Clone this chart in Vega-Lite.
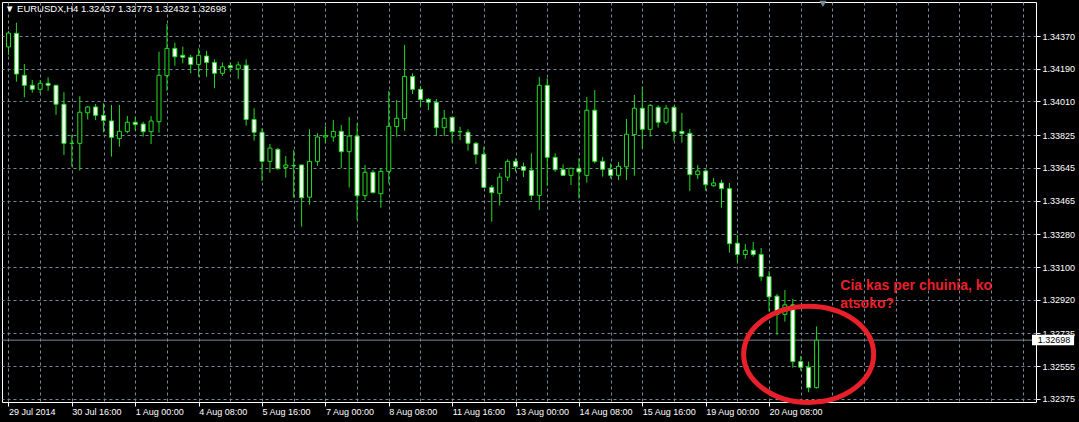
{
"$schema": "https://vega.github.io/schema/vega-lite/v6.json",
"width": 1034, "height": 400,
"autosize": {"type": "none"},
"padding": {"left": 2, "top": 2, "right": 43, "bottom": 20},
"background": "black",
"config": {"view": {"stroke": "white", "strokeWidth": 1}, "font": "Liberation Sans", "axis": {"labelOverlap": false, "labelSeparation": 0}},
"title": {"text": "▼  EURUSDX,H4  1.32437 1.32773 1.32432 1.32698", "anchor": "start", "frame": "group", "offset": -13, "dx": 3, "color": "white", "fontSize": 9.5, "fontWeight": "normal", "font": "Liberation Sans"},
"datasets": {"bars": [
{"i":0,"o":1.34310,"h":1.34397,"l":1.34266,"c":1.34386},
{"i":1,"o":1.34385,"h":1.34443,"l":1.34119,"c":1.34161},
{"i":2,"o":1.34154,"h":1.34216,"l":1.34033,"c":1.34099},
{"i":3,"o":1.34099,"h":1.34128,"l":1.34058,"c":1.34077},
{"i":4,"o":1.34077,"h":1.34128,"l":1.34055,"c":1.34110},
{"i":5,"o":1.34110,"h":1.34143,"l":1.34069,"c":1.34099},
{"i":6,"o":1.34099,"h":1.34102,"l":1.33937,"c":1.33995},
{"i":7,"o":1.33995,"h":1.34061,"l":1.33716,"c":1.33780},
{"i":8,"o":1.33780,"h":1.33826,"l":1.33652,"c":1.33780},
{"i":9,"o":1.33780,"h":1.34039,"l":1.33630,"c":1.33951},
{"i":10,"o":1.33948,"h":1.33985,"l":1.33911,"c":1.33980},
{"i":11,"o":1.33980,"h":1.33996,"l":1.33908,"c":1.33934},
{"i":12,"o":1.33934,"h":1.34000,"l":1.33841,"c":1.33906},
{"i":13,"o":1.33903,"h":1.33991,"l":1.33707,"c":1.33813},
{"i":14,"o":1.33806,"h":1.33991,"l":1.33762,"c":1.33846},
{"i":15,"o":1.33846,"h":1.33930,"l":1.33835,"c":1.33896},
{"i":16,"o":1.33896,"h":1.33926,"l":1.33853,"c":1.33883},
{"i":17,"o":1.33886,"h":1.33899,"l":1.33817,"c":1.33844},
{"i":18,"o":1.33844,"h":1.33930,"l":1.33776,"c":1.33903},
{"i":19,"o":1.33899,"h":1.34284,"l":1.33839,"c":1.34154},
{"i":20,"o":1.34152,"h":1.34436,"l":1.34069,"c":1.34302},
{"i":21,"o":1.34302,"h":1.34333,"l":1.34207,"c":1.34256},
{"i":22,"o":1.34264,"h":1.34311,"l":1.34220,"c":1.34253},
{"i":23,"o":1.34253,"h":1.34266,"l":1.34165,"c":1.34214},
{"i":24,"o":1.34214,"h":1.34302,"l":1.34146,"c":1.34264},
{"i":25,"o":1.34260,"h":1.34288,"l":1.34146,"c":1.34225},
{"i":26,"o":1.34225,"h":1.34242,"l":1.34083,"c":1.34165},
{"i":27,"o":1.34165,"h":1.34225,"l":1.34150,"c":1.34201},
{"i":28,"o":1.34207,"h":1.34225,"l":1.34174,"c":1.34196},
{"i":29,"o":1.34189,"h":1.34229,"l":1.34134,"c":1.34211},
{"i":30,"o":1.34209,"h":1.34242,"l":1.33877,"c":1.33911},
{"i":31,"o":1.33911,"h":1.33973,"l":1.33795,"c":1.33841},
{"i":32,"o":1.33841,"h":1.33863,"l":1.33573,"c":1.33681},
{"i":33,"o":1.33681,"h":1.33776,"l":1.33619,"c":1.33754},
{"i":34,"o":1.33747,"h":1.33754,"l":1.33634,"c":1.33641},
{"i":35,"o":1.33648,"h":1.33710,"l":1.33592,"c":1.33661},
{"i":36,"o":1.33657,"h":1.33743,"l":1.33481,"c":1.33657},
{"i":37,"o":1.33661,"h":1.33661,"l":1.33322,"c":1.33481},
{"i":38,"o":1.33484,"h":1.33857,"l":1.33443,"c":1.33681},
{"i":39,"o":1.33681,"h":1.33835,"l":1.33657,"c":1.33815},
{"i":40,"o":1.33815,"h":1.33875,"l":1.33780,"c":1.33822},
{"i":41,"o":1.33815,"h":1.33908,"l":1.33789,"c":1.33846},
{"i":42,"o":1.33846,"h":1.33881,"l":1.33643,"c":1.33734},
{"i":43,"o":1.33734,"h":1.33925,"l":1.33537,"c":1.33820},
{"i":44,"o":1.33820,"h":1.33890,"l":1.33359,"c":1.33492},
{"i":45,"o":1.33492,"h":1.33661,"l":1.33469,"c":1.33621},
{"i":46,"o":1.33621,"h":1.33634,"l":1.33505,"c":1.33509},
{"i":47,"o":1.33503,"h":1.33643,"l":1.33426,"c":1.33626},
{"i":48,"o":1.33626,"h":1.34068,"l":1.33560,"c":1.33874},
{"i":49,"o":1.33872,"h":1.34018,"l":1.33817,"c":1.33918},
{"i":50,"o":1.33916,"h":1.34321,"l":1.33850,"c":1.34148},
{"i":51,"o":1.34148,"h":1.34165,"l":1.34051,"c":1.34077},
{"i":52,"o":1.34077,"h":1.34095,"l":1.33981,"c":1.34021},
{"i":53,"o":1.34021,"h":1.34029,"l":1.33963,"c":1.34006},
{"i":54,"o":1.34006,"h":1.34024,"l":1.33820,"c":1.33866},
{"i":55,"o":1.33866,"h":1.33963,"l":1.33820,"c":1.33918},
{"i":56,"o":1.33923,"h":1.33926,"l":1.33784,"c":1.33844},
{"i":57,"o":1.33844,"h":1.33871,"l":1.33798,"c":1.33844},
{"i":58,"o":1.33841,"h":1.33857,"l":1.33740,"c":1.33780},
{"i":59,"o":1.33780,"h":1.33787,"l":1.33667,"c":1.33718},
{"i":60,"o":1.33720,"h":1.33762,"l":1.33538,"c":1.33538},
{"i":61,"o":1.33538,"h":1.33551,"l":1.33349,"c":1.33509},
{"i":62,"o":1.33505,"h":1.33617,"l":1.33437,"c":1.33594},
{"i":63,"o":1.33594,"h":1.33692,"l":1.33573,"c":1.33681},
{"i":64,"o":1.33681,"h":1.33697,"l":1.33625,"c":1.33653},
{"i":65,"o":1.33652,"h":1.33674,"l":1.33594,"c":1.33632},
{"i":66,"o":1.33632,"h":1.33725,"l":1.33469,"c":1.33494},
{"i":67,"o":1.33494,"h":1.34145,"l":1.33414,"c":1.34099},
{"i":68,"o":1.34099,"h":1.34138,"l":1.33547,"c":1.33703},
{"i":69,"o":1.33703,"h":1.33725,"l":1.33623,"c":1.33635},
{"i":70,"o":1.33635,"h":1.33665,"l":1.33601,"c":1.33604},
{"i":71,"o":1.33604,"h":1.33645,"l":1.33551,"c":1.33643},
{"i":72,"o":1.33643,"h":1.33698,"l":1.33476,"c":1.33623},
{"i":73,"o":1.33604,"h":1.34035,"l":1.33564,"c":1.33962},
{"i":74,"o":1.33962,"h":1.34073,"l":1.33670,"c":1.33681},
{"i":75,"o":1.33681,"h":1.33705,"l":1.33597,"c":1.33637},
{"i":76,"o":1.33637,"h":1.33670,"l":1.33588,"c":1.33604},
{"i":77,"o":1.33604,"h":1.33677,"l":1.33579,"c":1.33654},
{"i":78,"o":1.33651,"h":1.33914,"l":1.33579,"c":1.33830},
{"i":79,"o":1.33828,"h":1.34046,"l":1.33602,"c":1.33973},
{"i":80,"o":1.33973,"h":1.34091,"l":1.33753,"c":1.33857},
{"i":81,"o":1.33857,"h":1.33996,"l":1.33817,"c":1.33989},
{"i":82,"o":1.33978,"h":1.33989,"l":1.33866,"c":1.33896},
{"i":83,"o":1.33896,"h":1.33991,"l":1.33883,"c":1.33973},
{"i":84,"o":1.33978,"h":1.33985,"l":1.33795,"c":1.33845},
{"i":85,"o":1.33846,"h":1.33947,"l":1.33783,"c":1.33833},
{"i":86,"o":1.33835,"h":1.33859,"l":1.33518,"c":1.33608},
{"i":87,"o":1.33608,"h":1.33661,"l":1.33584,"c":1.33628},
{"i":88,"o":1.33628,"h":1.33637,"l":1.33520,"c":1.33553},
{"i":89,"o":1.33547,"h":1.33590,"l":1.33542,"c":1.33562},
{"i":90,"o":1.33562,"h":1.33579,"l":1.33426,"c":1.33531},
{"i":91,"o":1.33531,"h":1.33562,"l":1.33179,"c":1.33228},
{"i":92,"o":1.33231,"h":1.33276,"l":1.33125,"c":1.33169},
{"i":93,"o":1.33169,"h":1.33227,"l":1.33144,"c":1.33192},
{"i":94,"o":1.33192,"h":1.33238,"l":1.33157,"c":1.33169},
{"i":95,"o":1.33169,"h":1.33205,"l":1.33024,"c":1.33047},
{"i":96,"o":1.33047,"h":1.33078,"l":1.32855,"c":1.32936},
{"i":97,"o":1.32940,"h":1.32952,"l":1.32727,"c":1.32840},
{"i":98,"o":1.32840,"h":1.32974,"l":1.32800,"c":1.32892},
{"i":99,"o":1.32892,"h":1.32925,"l":1.32547,"c":1.32580},
{"i":100,"o":1.32580,"h":1.32611,"l":1.32530,"c":1.32549},
{"i":101,"o":1.32549,"h":1.32580,"l":1.32412,"c":1.32437},
{"i":102,"o":1.32437,"h":1.32773,"l":1.32432,"c":1.32698}
]},
"layer": [
{"data": {"values": [{"price": 1.32698}]},
 "mark": {"type": "rule", "color": "#778899", "strokeWidth": 1},
 "encoding": {
  "y": {"field": "price", "type": "quantitative", "scale": {"domain": [1.32358, 1.34557], "nice": false, "zero": false},
    "axis": {"orient": "right", "values": [1.3437,1.3419,1.3401,1.33825,1.33645,1.33465,1.3328,1.331,1.3292,1.32735,1.32555,1.32375], "tickCount": 50, "format": ".5f", "grid": true, "gridColor": "#778899", "gridDash": [3,3], "gridWidth": 1, "domain": false, "tickColor": "white", "tickSize": 4, "labelColor": "white", "labelFont": "Liberation Sans", "labelFontSize": 9, "labelPadding": 2, "labelOverlap": false, "labelFlush": false, "labelBound": false, "title": null}}
 }},
{"data": {"name": "bars"},
 "mark": {"type": "rule", "color": "#22dd22", "strokeWidth": 1, "clip": true},
 "encoding": {
  "x": {"field": "i", "type": "quantitative", "scale": {"domain": [-0.1875, 129.0625], "nice": false, "zero": false},
    "axis": {"values": [0,4,8,12,16,20,24,28,32,36,40,44,48,52,56,60,64,68,72,76,80,84,88,92,96,100,104,108,112,116,120,124,128], "tickCount": 100,
      "labelExpr": "(datum.value % 8 == 0 && datum.value <= 96) ? ['29 Jul 2014','30 Jul 16:00','1 Aug 00:00','4 Aug 08:00','5 Aug 16:00','7 Aug 00:00','8 Aug 08:00','11 Aug 16:00','13 Aug 00:00','14 Aug 08:00','15 Aug 16:00','19 Aug 00:00','20 Aug 08:00'][datum.value / 8] : ''",
      "grid": true, "gridColor": "#778899", "gridDash": [3,3], "gridWidth": 1, "domain": false,
      "tickColor": "white", "tickSize": 4,
      "tickOpacity": {"condition": {"test": "datum.value % 8 == 0 && datum.value <= 96", "value": 1}, "value": 0},
      "labelColor": "white", "labelFont": "Liberation Sans", "labelFontSize": 9, "labelAlign": "left", "labelBaseline": "top", "labelPadding": 1, "labelOverlap": false, "labelFlush": false, "title": null}},
  "y": {"field": "l", "type": "quantitative"},
  "y2": {"field": "h"}
 }},
{"data": {"name": "bars"},
 "mark": {"type": "bar", "size": 4, "stroke": "#22dd22", "strokeWidth": 1, "clip": true},
 "encoding": {
  "x": {"field": "i", "type": "quantitative"},
  "y": {"field": "o", "type": "quantitative"},
  "y2": {"field": "c"},
  "fill": {"condition": {"test": "datum.c < datum.o", "value": "white"}, "value": "black"}
 }},
{"data": {"values": [{"price": 1.32698}]},
 "mark": {"type": "rect", "fill": "white"},
 "encoding": {
  "x": {"datum": 129.19}, "x2": {"datum": 134.5},
  "y": {"datum": 1.32728}, "y2": {"datum": 1.32670}
 }},
{"data": {"values": [{"price": 1.32698}]},
 "mark": {"type": "text", "color": "black", "font": "Liberation Sans", "fontSize": 9, "align": "left", "baseline": "middle"},
 "encoding": {
  "x": {"datum": 129.9},
  "y": {"field": "price", "type": "quantitative"},
  "text": {"field": "price", "type": "quantitative", "format": ".5f"}
 }},
{"data": {"values": [{"i": 101, "p": 1.32620}]},
 "mark": {"type": "point", "shape": "M-1,0A1,0.74,0,1,0,1,0A1,0.74,0,1,0,-1,0Z", "size": 16900, "filled": false, "stroke": "#e8202a", "strokeWidth": 5, "opacity": 1},
 "encoding": {
  "x": {"field": "i", "type": "quantitative"},
  "y": {"field": "p", "type": "quantitative"}
 }},
{"data": {"values": [{"i": 105.0, "p": 1.32971, "note": ["Cia kas per chuinia, ko", "atsoko?"]}]},
 "mark": {"type": "text", "color": "#e8202a", "font": "Liberation Sans", "fontSize": 14, "fontWeight": "bold", "align": "left", "baseline": "alphabetic", "lineHeight": 18},
 "encoding": {
  "x": {"field": "i", "type": "quantitative"},
  "y": {"field": "p", "type": "quantitative"},
  "text": {"field": "note"}
 }},
{"data": {"values": [{"i": 102.8, "p": 1.34547}]},
 "mark": {"type": "point", "shape": "triangle-down", "size": 50, "filled": true, "color": "#778899", "opacity": 1},
 "encoding": {
  "x": {"field": "i", "type": "quantitative"},
  "y": {"field": "p", "type": "quantitative"}
 }}
]
}
